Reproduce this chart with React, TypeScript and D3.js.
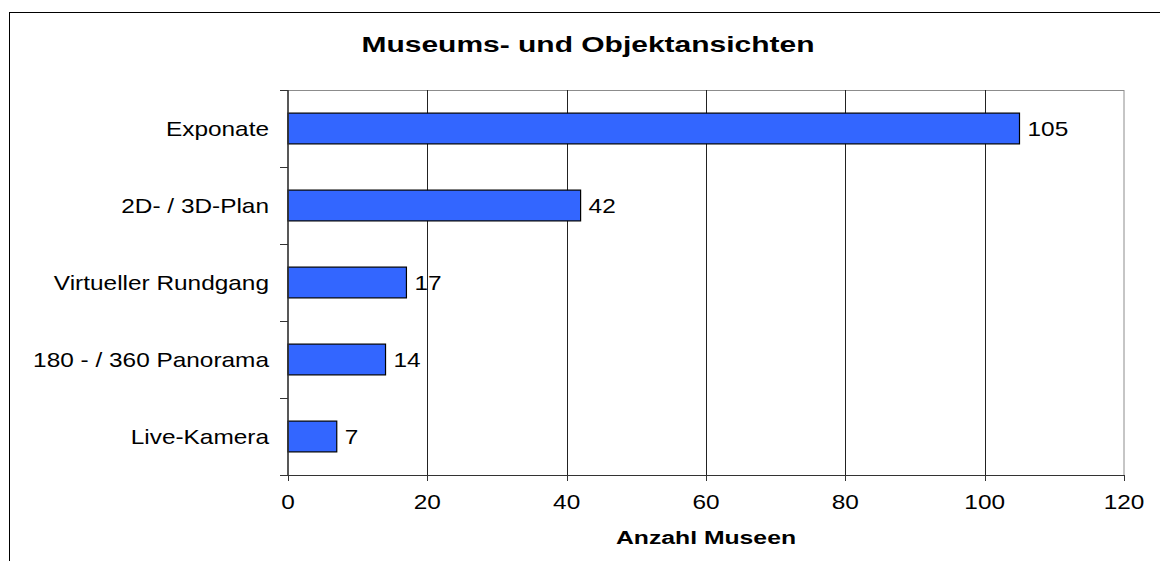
import React from "react";
import * as d3 from "d3";

const categories = ["Exponate", "2D- / 3D-Plan", "Virtueller Rundgang", "180 - / 360 Panorama", "Live-Kamera"];
const values = [105, 42, 17, 14, 7];
const xTicks = [0, 20, 40, 60, 80, 100, 120];
const title = "Museums- und Objektansichten";
const xAxisTitle = "Anzahl Museen";

const W = 1160;
const H = 561;
const plot = { left: 288, right: 1124, top: 90, bottom: 475 };
const FONT = "'Liberation Sans', Arial, sans-serif";
const SX = 1.22;

export default function App() {
  const x = d3.scaleLinear().domain([0, 120]).range([plot.left, plot.right]);
  const y = d3.scaleBand<string>().domain(categories).range([plot.top, plot.bottom]).paddingInner(0.6).paddingOuter(0.3);
  const step = (plot.bottom - plot.top) / categories.length;
  const bounds = d3.range(categories.length + 1).map((i) => plot.top + i * step);

  const txt = (tx: number, ty: number, s: string, anchor: string, key?: string) => (
    <text key={key} transform={`translate(${tx},${ty}) scale(${SX},1)`} textAnchor={anchor} fontSize={20} fontFamily={FONT} fill="#000">
      {s}
    </text>
  );

  return (
    <svg width={W} height={H} style={{ position: "absolute", left: 0, top: 0, background: "#fff" }}>
      <rect x={0} y={0} width={W} height={H} fill="#fff" />
      <rect x={9.5} y={12.5} width={1300} height={700} fill="none" stroke="#000" strokeWidth={1} />
      <text x={588} y={52} textAnchor="middle" fontSize={21.5} fontWeight="bold" fontFamily={FONT} textLength={453} lengthAdjust="spacingAndGlyphs">
        {title}
      </text>
      {/* plot frame */}
      <rect x={plot.left} y={plot.top + 0.5} width={plot.right - plot.left} height={plot.bottom - plot.top} fill="none" stroke="#8c8c8c" strokeWidth={1} />
      {xTicks.slice(1, -1).map((t) => (
        <line key={"g" + t} x1={Math.round(x(t)) + 0.5} x2={Math.round(x(t)) + 0.5} y1={plot.top} y2={plot.bottom} stroke="#222" strokeWidth={1} />
      ))}
      {/* bars */}
      {categories.map((c, i) => (
        <rect key={"b" + c} x={x(0)} y={y(c)!} width={x(values[i]) - x(0)} height={y.bandwidth()} fill="#3366FF" stroke="#000" strokeWidth={1.2} />
      ))}
      {categories.map((c, i) => txt(x(values[i]) + 8, y(c)! + y.bandwidth() / 2 + 7, String(values[i]), "start", "v" + c))}
      {/* y axis */}
      <line x1={plot.left} x2={plot.left} y1={plot.top} y2={plot.bottom} stroke="#333" strokeWidth={1.5} />
      {bounds.map((b, i) => (
        <line key={"yt" + i} x1={plot.left - 8} x2={plot.left} y1={Math.round(b) + 0.5} y2={Math.round(b) + 0.5} stroke="#333" strokeWidth={1} />
      ))}
      {categories.map((c) => txt(269, y(c)! + y.bandwidth() / 2 + 7, c, "end", "c" + c))}
      {/* x axis */}
      <line x1={plot.left} x2={plot.right} y1={plot.bottom + 0.5} y2={plot.bottom + 0.5} stroke="#333" strokeWidth={1} />
      {xTicks.map((t) => (
        <line key={"xt" + t} x1={Math.round(x(t)) + 0.5} x2={Math.round(x(t)) + 0.5} y1={plot.bottom} y2={plot.bottom + 6} stroke="#333" strokeWidth={1} />
      ))}
      {xTicks.map((t) => txt(x(t), 509, String(t), "middle", "xl" + t))}
      <text x={706} y={544} textAnchor="middle" fontSize={18} fontWeight="bold" fontFamily={FONT} textLength={180} lengthAdjust="spacingAndGlyphs">
        {xAxisTitle}
      </text>
    </svg>
  );
}
